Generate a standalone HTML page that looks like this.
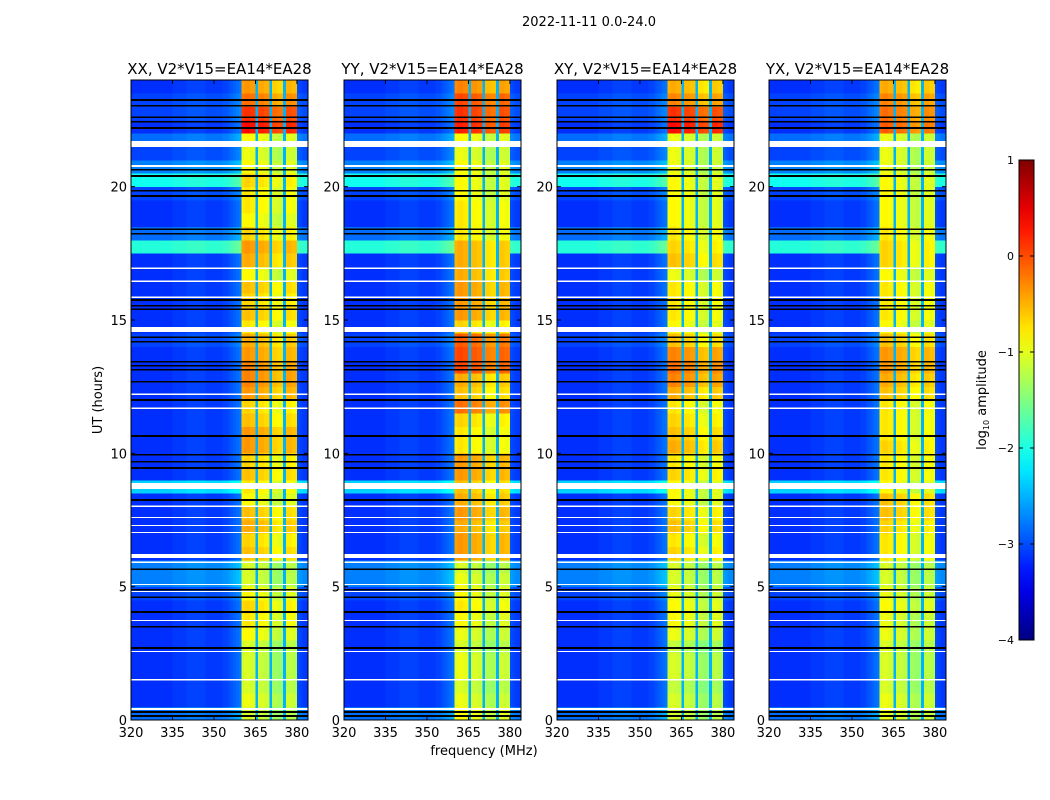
<!DOCTYPE html>
<html><head><meta charset="utf-8">
<style>
html,body{margin:0;padding:0;background:#fff;}
svg{display:block;font-family:"DejaVu Sans","Liberation Sans",sans-serif;}
</style></head>
<body>
<svg id="fig" width="1050" height="800" viewBox="0 0 1050 800">
<text x="589" y="26" font-size="13" text-anchor="middle">2022-11-11 0.0-24.0</text>
<text x="484" y="755" font-size="13" text-anchor="middle">frequency (MHz)</text>
<text transform="translate(102,400) rotate(-90)" font-size="13" text-anchor="middle">UT (hours)</text>
<g id="panels"></g>
<g id="cbar"></g>
<text transform="translate(986,400) rotate(-90)" font-size="13" text-anchor="middle">log<tspan font-size="8" dy="3">10</tspan><tspan dy="-3"> amplitude</tspan></text>
</svg>
<script>
// ---------- data ----------
const panelTitles = ["XX, V2*V15=EA14*EA28","YY, V2*V15=EA14*EA28","XY, V2*V15=EA14*EA28","YX, V2*V15=EA14*EA28"];
const xTicks = [320,335,350,365,380];
const yTicks = [0,5,10,15,20];
const cbTicks = [1,0,-1,-2,-3,-4];
// frequency bins (1 MHz) 320..383, background log amplitude per bin
const freqBins = [320,321,322,323,324,325,326,327,328,329,330,331,332,333,334,335,336,337,338,339,340,341,342,343,344,345,346,347,348,349,350,351,352,353,354,355,356,357,358,359,360,361,362,363,364,365,366,367,368,369,370,371,372,373,374,375,376,377,378,379,380,381,382,383];
const bgCol = [-3.15,-3.15,-3.15,-3.15,-3.15,-3.15,-3.15,-3.15,-3.15,-3.15,-3.15,-3.15,-3.15,-3.15,-3.15,-3.1,-3.1,-3.1,-3.1,-3.1,-3.05,-3.05,-3.05,-3.05,-3.05,-3.05,-3.05,-3.1,-3.1,-3.1,-3.1,-3.1,-3.1,-3.05,-3.05,-3.0,-2.95,-2.9,-2.85,-2.8,0,0,0,0,0,-2.5,0,0,0,0,-2.5,0,0,0,0,-2.5,0,0,0,0,-3.0,-3.05,-3.1,-3.1];
// 1 = inside bright band
const bandMask = [0,0,0,0,0,0,0,0,0,0,0,0,0,0,0,0,0,0,0,0,0,0,0,0,0,0,0,0,0,0,0,0,0,0,0,0,0,0,0,0,1,1,1,1,1,0,1,1,1,1,0,1,1,1,1,0,1,1,1,1,0,0,0,0];
const bandOff = [0,0,0,0,0,0,0,0,0,0,0,0,0,0,0,0,0,0,0,0,0,0,0,0,0,0,0,0,0,0,0,0,0,0,0,0,0,0,0,0,0.0,0.05,0.05,0,0,0,-0.05,-0.05,-0.1,-0.1,0,-0.25,-0.25,-0.3,-0.3,0,-0.1,-0.1,-0.15,-0.15,0,0,0,0];
// background row offsets per 0.5 h row (0h .. 24h)
const bgRow = [0.3,0,0,0,0,0,0,0,0,0.1,0.4,0.4,0,0,0,0,0,0.8,0,0,0,0,0,0,0,0,0,0,0.1,0,0,0,0,0,0,1.2,0.3,0,0,0.1,1.1,0.4,0.1,0.3,0,0.1,0.1,0];
// band amplitude per 0.5 h row, per panel
const bandXX = [-1.1,-1.0,-1.1,-1.1,-1.1,-1.1,-0.9,-0.8,-0.7,-0.9,-1.1,-1.1,-0.6,-0.7,-0.5,-0.6,-0.9,-0.8,-0.6,-0.7,-0.4,-0.4,-0.6,-0.7,-0.4,-0.3,-0.3,-0.4,-0.5,-0.8,-0.6,-0.7,-0.6,-0.9,-0.5,-0.4,-0.7,-0.9,-0.8,-0.8,-0.7,-0.9,-1.0,-0.9,0.3,0.1,-0.2,-0.4];
const bandYY = [-0.9,-1.0,-1.1,-1.0,-1.0,-1.1,-1.0,-0.9,-0.8,-0.9,-1.0,-1.1,-0.4,-0.4,-0.5,-0.4,-0.5,-0.6,-0.4,-0.4,-0.8,-0.8,-0.7,-0.2,-0.6,-0.5,0.0,0.0,-0.1,-0.7,-0.4,-0.4,-0.4,-0.5,-0.5,-0.5,-0.8,-0.8,-0.8,-0.9,-0.9,-0.9,-1.0,-0.9,0.2,0.1,0.0,-0.3];
const bandXY = [-1.1,-1.1,-1.2,-1.1,-1.1,-1.2,-1.0,-0.9,-0.9,-1.0,-1.1,-1.1,-0.7,-0.8,-0.6,-0.7,-0.9,-0.9,-0.7,-0.8,-0.5,-0.6,-0.7,-0.8,-0.5,-0.3,-0.2,-0.3,-0.6,-0.9,-0.8,-0.8,-0.8,-1.0,-0.6,-0.7,-0.8,-0.9,-0.9,-0.9,-0.9,-1.0,-1.0,-1.0,0.3,0.1,-0.3,-0.5];
const bandYX = [-1.0,-1.0,-1.1,-1.1,-1.1,-1.1,-1.0,-1.0,-0.9,-1.0,-1.1,-1.1,-0.8,-0.8,-0.7,-0.6,-0.6,-0.9,-0.8,-0.8,-0.7,-0.8,-0.8,-0.8,-0.6,-0.5,-0.4,-0.4,-0.6,-0.9,-0.8,-0.8,-0.8,-0.9,-0.7,-0.7,-0.8,-0.9,-0.9,-0.9,-0.9,-1.0,-1.0,-1.0,-0.1,-0.2,-0.3,-0.5];
// flagged time intervals (hours)
const whiteFlagStart = [21.49,20.74,16.91,16.43,15.83,14.55,12.19,11.66,8.66,7.99,7.58,7.27,7.01,6.07,5.89,5.06,4.80,4.57,3.71,2.55,1.48,0.37];
const whiteFlagEnd   = [21.72,20.82,16.96,16.48,15.88,14.74,12.24,11.71,8.89,8.04,7.62,7.31,7.05,6.22,5.94,5.10,4.84,4.61,3.75,2.59,1.54,0.45];
const blackFlag = [23.25,23.03,22.61,22.43,22.2,20.63,20.4,19.84,19.65,18.41,18.23,15.75,15.53,15.41,14.36,14.18,13.43,13.28,13.13,12.68,12.0,10.65,9.94,9.68,9.45,8.25,5.66,4.88,4.61,4.05,3.49,2.7,0.3,0.15];
const blackWidth = 0.06;

// ---------- layout ----------
const panelLeft = [131,344,557,769];
const pW = 177, pTop = 80, pBot = 720;
const fMin = 320, fMax = 384, tMin = 0, tMax = 24;
const NS = "http://www.w3.org/2000/svg";

function jet(v){
  let t=(v+4)/5; t=Math.max(0,Math.min(1,t));
  const c=x=>Math.round(255*Math.max(0,Math.min(1,x)));
  return `rgb(${c(1.5-Math.abs(4*t-3))},${c(1.5-Math.abs(4*t-2))},${c(1.5-Math.abs(4*t-1))})`;
}
function mk(tag,attrs,parent){const e=document.createElementNS(NS,tag);for(const k in attrs)e.setAttribute(k,attrs[k]);parent.appendChild(e);return e;}

const panelsG=document.getElementById('panels');
const bands=[bandXX,bandYY,bandXY,bandYX];
const names=['xx','yy','xy','yx'];

panelLeft.forEach((L,p)=>{
  const xs=f=>L+(f-fMin)/(fMax-fMin)*pW;
  const ys=t=>pBot-(t-tMin)/(tMax-tMin)*(pBot-pTop);
  const g=mk('g',{},panelsG);
  
  
  const hm=mk('g',{'shape-rendering':'crispEdges'},g);
  
  
  const band=bands[p];
  for(let r=0;r<band.length;r++){
    const y0=ys((r+1)*0.5), y1=ys(r*0.5);
    for(let c=0;c<freqBins.length;c++){
      let v = bandMask[c] ? band[r]+bandOff[c] : bgCol[c]+(bgCol[c]<-2.7?bgRow[r]:0);
      const x0=xs(freqBins[c]), x1=xs(freqBins[c]+1);
      const rc=mk('rect',{x:x0,y:y0,width:x1-x0+0.3,height:y1-y0+0.3,fill:jet(v)},hm);
      
      
    }
  }
  whiteFlagStart.forEach((s,i)=>{
    const rc=mk('rect',{x:L,y:ys(whiteFlagEnd[i]),width:pW,height:ys(s)-ys(whiteFlagEnd[i]),fill:'#fff'},hm);
    
    
  });
  blackFlag.forEach(h=>{
    const rc=mk('rect',{x:L,y:ys(h+blackWidth/2),width:pW,height:ys(h-blackWidth/2)-ys(h+blackWidth/2),fill:'#000'},hm);
    
    
  });
  const fr=mk('rect',{x:L,y:pTop,width:pW,height:pBot-pTop,fill:'none',stroke:'#000','stroke-width':1},g);
  
  
  const tt=mk('text',{x:L+pW/2,y:74,'font-size':15,'text-anchor':'middle'},g);
  tt.textContent=panelTitles[p];
  
  
  xTicks.forEach(f=>{
    const x=xs(f);
    mk('line',{x1:x,x2:x,y1:pBot,y2:pBot-4,stroke:'#000'},g);
    mk('line',{x1:x,x2:x,y1:pTop,y2:pTop+4,stroke:'#000'},g);
    const t=mk('text',{x:x,y:737,'font-size':13,'text-anchor':'middle'},g);
    t.textContent=f;
    
    
  });
  yTicks.forEach(h=>{
    const y=ys(h);
    mk('line',{x1:L,x2:L+4,y1:y,y2:y,stroke:'#000'},g);
    mk('line',{x1:L+pW,x2:L+pW-4,y1:y,y2:y,stroke:'#000'},g);
    const t=mk('text',{x:L-4,y:y+5,'font-size':13,'text-anchor':'end'},g);
    t.textContent=h;
    
    
  });
});

// colorbar
const cb=document.getElementById('cbar');
const cbX=1019,cbW=15,cbTop=160,cbBot=640,cbMin=-4,cbMax=1;
const cys=v=>cbBot-(v-cbMin)/(cbMax-cbMin)*(cbBot-cbTop);
const defs=mk('defs',{},cb);
const lg=mk('linearGradient',{id:'jetg',x1:0,y1:1,x2:0,y2:0},defs);
for(let i=0;i<=20;i++){mk('stop',{offset:i/20,'stop-color':jet(cbMin+i/20*(cbMax-cbMin))},lg);}
const cr=mk('rect',{x:cbX,y:cbTop,width:cbW,height:cbBot-cbTop,fill:'url(#jetg)',stroke:'#000'},cb);


cbTicks.forEach(v=>{
  const y=cys(v);
  mk('line',{x1:cbX,x2:cbX+4,y1:y,y2:y,stroke:'#000'},cb);
  mk('line',{x1:cbX+cbW,x2:cbX+cbW-4,y1:y,y2:y,stroke:'#000'},cb);
  const t=mk('text',{x:cbX-5,y:y+4,'font-size':11,'text-anchor':'end'},cb);
  t.textContent=(v<0?'\u2212'+(-v):v);
  
  
});
</script>
</body></html>
